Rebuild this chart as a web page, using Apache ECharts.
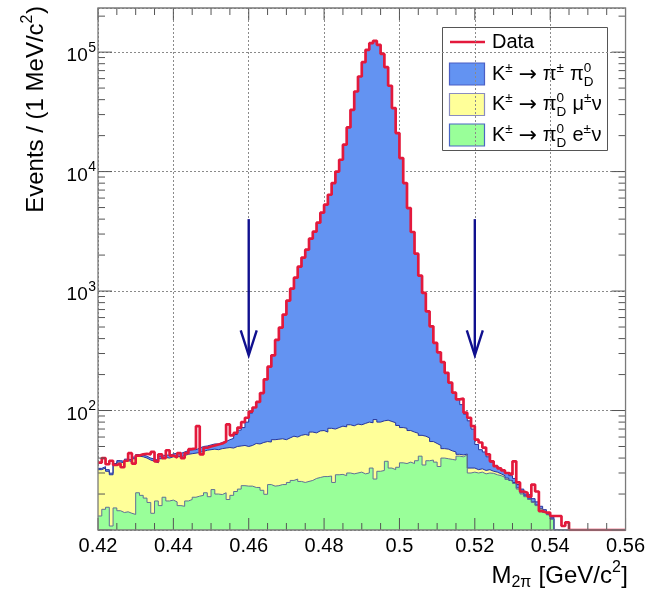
<!DOCTYPE html>
<html>
<head>
<meta charset="utf-8">
<script src="https://cdn.jsdelivr.net/npm/echarts@6/dist/echarts.min.js"></script>
<style>
  html, body { margin: 0; padding: 0; background: #ffffff; }
  #chart { width: 648px; height: 595px; }
</style>
</head>
<body>
<div id="chart"></div>
<script>
// Axis ranges and tick values
const X_MIN = 0.42, X_MAX = 0.56, BIN_WIDTH = 0.001;
const Y_MIN = 10, Y_MAX = 234000;
const xTickValues = [0.42, 0.44, 0.46, 0.48, 0.50, 0.52, 0.54, 0.56];
const yTickValues = [100, 1000, 10000, 100000];

// Selection cuts on M(2pi), shown as arrows
const cutValues = [0.46, 0.52];
const arrowTop = 4000;
const arrowTip = 290;

// Events per 1 MeV/c^2 bin, 0.420 .. 0.560 GeV/c^2 (140 bins)
const ke3 = [
  13.1, 14.9, 15.5, 10.8, 15.3, 14.5, 14.0, 14.2, 13.8, 13.5,
  20.5, 19.5, 18.5, 17.0, 13.8, 17.5, 16.0, 18.8, 17.5, 17.8,
  17.2, 16.0, 15.8, 17.5, 18.0, 18.8, 19.2, 19.5, 20.5, 19.0,
  21.8, 20.0, 19.8, 20.5, 18.0, 19.5, 21.0, 22.0, 23.5, 23.3,
  23.3, 22.7, 22.7, 21.5, 19.9, 24.0, 23.3, 23.5, 24.0, 24.0,
  25.0, 26.0, 26.7, 25.5, 25.0, 25.5, 26.0, 27.0, 27.5, 28.0,
  28.0, 28.3, 25.0, 29.0, 29.2, 28.5, 30.0, 29.5, 30.0, 30.5,
  29.5, 30.0, 33.0, 26.7, 31.0, 31.5, 37.6, 33.0, 32.0, 33.5,
  36.5, 36.0, 37.0, 36.0, 38.0, 41.5, 35.0, 38.0, 38.5, 37.0,
  34.0, 40.0, 39.5, 39.0, 38.5, 41.5, 41.0, 42.5, 30.0, 30.5,
  30.0, 30.5, 29.5, 30.0, 29.8, 29.0, 28.5, 27.6, 26.5, 25.5,
  24.5, 22.0, 20.0, 19.0, 18.0, 17.0, 16.0, 15.0, 14.0, 13.4,
  12.3, 9.0, 7.5, 6.0, 4.5, 3.0, 2.0, 1.0, 0, 0,
  0, 0, 0, 0, 0, 0, 0, 0, 0, 0
];
const kmu3 = [
  18.9, 18.1, 15.5, 18.2, 19.7, 22.5, 22.5, 23.8, 23.7, 26.0,
  21.0, 21.5, 21.5, 21.5, 23.8, 19.0, 23.5, 21.7, 22.5, 23.2,
  24.3, 25.0, 26.2, 25.5, 25.5, 25.2, 25.3, 26.0, 26.0, 28.0,
  25.7, 27.0, 28.2, 28.0, 31.0, 29.0, 29.0, 28.5, 27.5, 26.7,
  27.7, 30.3, 29.8, 32.5, 35.1, 30.5, 33.7, 34.0, 34.0, 33.0,
  34.0, 35.0, 33.3, 36.5, 38.0, 36.5, 40.0, 38.0, 40.0, 40.0,
  38.0, 42.7, 45.0, 43.0, 44.8, 44.5, 46.0, 45.0, 47.0, 45.5,
  48.5, 50.0, 46.0, 57.3, 49.0, 50.5, 45.4, 48.0, 47.0, 41.5,
  35.5, 35.0, 31.0, 30.0, 26.5, 20.5, 26.0, 21.0, 16.5, 16.0,
  17.0, 8.0, 8.0, 7.0, 6.5, 1.5, 1.5, 0.7, 3.0, 2.5,
  2.0, 2.0, 2.0, 2.0, 1.2, 1.5, 1.0, 0.9, 0.7, 0.5,
  0.5, 0.5, 0.4, 0.3, 0.2, 0.2, 0.2, 0.1, 0.1, 0.1,
  0.1, 0, 0, 0, 0, 0, 0, 0, 0, 0,
  0, 0, 0, 0, 0, 0, 0, 0, 0, 0
];
const k2pi = [
  0.8, 0.9, 1.0, 0.9, 1.0, 1.1, 1.0, 1.2, 1.2, 1.3,
  1.3, 1.4, 1.5, 1.5, 1.6, 1.8, 1.9, 2.0, 2.2, 2.3,
  2.5, 2.7, 3.0, 3.2, 3.5, 3.0, 4.0, 4.5, 4.0, 4.5,
  5.0, 5.5, 6.0, 6.5, 8.0, 10.0, 13.0, 18.0, 21.0, 30.0,
  44, 53, 65.5, 86, 127, 178.5, 233, 332.5, 436, 578,
  773, 986, 1234, 1538, 1842, 2158, 2677, 3075, 3667, 4462,
  5219, 6329, 7950, 9928, 12486, 16717, 23324, 32825, 46723, 62424,
  82322, 104420, 118821, 124116, 114920, 96518, 74717, 52219, 33921, 20925,
  12908, 7949, 4882, 3054, 1990, 1284, 903, 618, 452, 315,
  256, 206, 160, 125, 96, 81, 69.5, 50, 49, 37,
  20, 14.5, 13.5, 9, 6, 3.5, 3.5, 3, 2.8, 2.5,
  2, 1.5, 1.6, 0.7, 1.3, 1.1, 1.0, 0.7, 0.7, 0.5,
  0.4, 1.1, 0.5, 0.3, 0.2, 0.1, 0, 0, 0, 0,
  0, 0, 0, 0, 0, 0, 0, 0, 0, 0
];
const dataCounts = [
  36.6, 40.0, 35.5, 38.0, 35.0, 36.0, 33.5, 38.0, 44.0, 36.0,
  42.0, 43.0, 43.5, 43.0, 45.0, 37.5, 43.0, 40.0, 46.5, 42.0,
  40.5, 44.0, 40.0, 44.0, 47.5, 48.5, 74.0, 43.0, 48.8, 50.0,
  51.0, 52.0, 53.0, 55.0, 76.5, 62.0, 65.0, 72.0, 80.0, 87.0,
  98, 106, 118, 140, 182, 233, 290, 390, 494, 635,
  832, 1047, 1294, 1600, 1905, 2220, 2743, 3140, 3735, 4530,
  5285, 6400, 8020, 10000, 12560, 16790, 23400, 32900, 46800, 62500,
  82400, 104500, 118900, 124200, 115000, 96600, 74800, 52300, 34000, 21000,
  12980, 8020, 4950, 3120, 2055, 1346, 964, 677, 507, 368,
  307, 254, 207, 171, 141, 124, 126, 96, 87, 74,
  57, 54, 49, 43, 37.6, 34.2, 32.8, 31.5, 30, 29,
  37.6, 25, 21, 20.5, 19, 24, 21, 14.4, 14, 14,
  13.1, 13.1, 13.1, 10.8, 11.6, 0, 0, 0, 0, 0,
  0, 0, 0, 0, 0, 0, 0, 0, 0, 0
];

// Colours and fonts
const FONT = '"Liberation Sans", Arial, Helvetica, sans-serif';
const ARROW_FONT = '"DejaVu Sans", sans-serif';
const BLUE_FILL = '#6393f2';
const YELLOW_FILL = '#ffff99';
const GREEN_FILL = '#99ff99';
const NAVY_LINE = '#26349c';
const GREEN_LINE = '#607096';
const DATA_RED = '#e3193c';
const ARROW_BLUE = '#10108f';
const FRAME_GREY = '#7a7a7a';
const GRID_GREY = '#8a8a8a';

const nBins = dataCounts.length;
const binEdges = Array.from({ length: nBins + 1 }, (_, i) => +(X_MIN + i * BIN_WIDTH).toFixed(3));

// THStack-style cumulative tops: Ke3, Ke3+Kmu3, Ke3+Kmu3+K2pi
const topKe3 = ke3.slice();
const topKmu3 = ke3.map((v, i) => v + kmu3[i]);
const topAll = topKmu3.map((v, i) => v + k2pi[i]);

// Histogram outline points (step turns at the right bin edge); empty bins sit on the axis floor
function histPoints(values) {
  const pts = values.map((v, i) => [binEdges[i], Math.max(v, Y_MIN)]);
  pts.push([binEdges[nBins], Math.max(values[nBins - 1], Y_MIN)]);
  return pts;
}

// Text measuring for composed labels with super/subscripts
const measureCtx = document.createElement('canvas').getContext('2d');
function textWidth(str, size, family) {
  measureCtx.font = size + 'px ' + (family || FONT);
  return measureCtx.measureText(str).width;
}
function textEl(str, x, y, size, align, family) {
  return {
    type: 'text', x: x, y: y, silent: true,
    style: { text: str, fontSize: size, fontFamily: family || FONT, fill: '#000', align: align || 'left', verticalAlign: 'middle' }
  };
}
// pieces: {t[, size, font, gap]}, {sup}, {sub}, {sup, sub} (stacked)
function formula(pieces, base, small, supShift, subShift) {
  const out = [];
  let x = 0;
  pieces.forEach(p => {
    if (p.t !== undefined) {
      const size = p.size || base;
      out.push(textEl(p.t, x, p.dy || 0, size, 'left', p.font));
      x += textWidth(p.t, size, p.font);
    } else {
      let w = 0;
      if (p.sup !== undefined) { out.push(textEl(p.sup, x, -supShift, small)); w = Math.max(w, textWidth(p.sup, small)); }
      if (p.sub !== undefined) { out.push(textEl(p.sub, x, subShift, small)); w = Math.max(w, textWidth(p.sub, small)); }
      x += w + 0.5;
    }
  });
  return { children: out, width: x };
}
function shiftAll(children, dx) {
  children.forEach(c => { c.x += dx; });
  return children;
}

// Axis titles
const yTitle = formula([{ t: 'Events / (1 MeV/c' }, { sup: '2' }, { t: ')' }], 24, 16, 8, 8);
const xTitle = formula([{ t: 'M' }, { sub: '2\u03c0' }, { t: ' [GeV/c' }, { sup: '2' }, { t: ']' }], 24, 16, 8, 7);

// Legend entries
const ARROW_PIECES = [{ t: ' ' }, { t: '\u2192', size: 22, font: ARROW_FONT, dy: 1 }, { t: ' \u03c0' }];
const legendRows = [
  { fill: BLUE_FILL, stroke: '#4b5ec4',
    label: [{ t: 'K' }, { sup: '\u00b1' }].concat(ARROW_PIECES, [{ sup: '\u00b1' }, { t: ' \u03c0' }, { sup: '0', sub: 'D' }]) },
  { fill: YELLOW_FILL, stroke: '#8a8cc0',
    label: [{ t: 'K' }, { sup: '\u00b1' }].concat(ARROW_PIECES, [{ sup: '0', sub: 'D' }, { t: ' \u03bc' }, { sup: '\u00b1' }, { t: '\u03bd' }]) },
  { fill: GREEN_FILL, stroke: '#4a66c4',
    label: [{ t: 'K' }, { sup: '\u00b1' }].concat(ARROW_PIECES, [{ sup: '0', sub: 'D' }, { t: ' e' }, { sup: '\u00b1' }, { t: '\u03bd' }]) }
];

const legendChildren = [
  { type: 'rect', shape: { x: 442.5, y: 27.5, width: 165, height: 123 }, style: { fill: '#fff', stroke: '#555', lineWidth: 1 } },
  { type: 'line', shape: { x1: 450, y1: 42, x2: 485, y2: 42 }, style: { stroke: DATA_RED, lineWidth: 2.6 } },
  textEl('Data', 492, 42.5, 20)
];
legendRows.forEach((row, k) => {
  const cy = 74 + k * 30.5;
  legendChildren.push({ type: 'rect', shape: { x: 449.5, y: cy - 11, width: 35, height: 22 },
    style: { fill: row.fill, stroke: row.stroke, lineWidth: 1.2 } });
  const f = formula(row.label, 20, 13.5, 6, 8);
  f.children.forEach(c => { c.x += 492; c.y += cy; legendChildren.push(c); });
});

const option = {
  animation: false,
  backgroundColor: '#ffffff',
  grid: { left: 98, right: 20, top: 8, bottom: 65, containLabel: false },
  xAxis: {
    type: 'value', min: X_MIN, max: X_MAX, interval: 0.02,
    axisLine: { show: false },
    axisTick: { show: false },
    axisLabel: { show: true, margin: 6, fontSize: 20, fontFamily: FONT, color: '#000',
      formatter: v => xTickValues.some(t => Math.abs(t - v) < 1e-9) ? String(+v.toFixed(2)) : '' },
    splitLine: { show: true, lineStyle: { color: GRID_GREY, width: 1, type: [2, 2] } }
  },
  yAxis: {
    type: 'log', logBase: 10, min: Y_MIN, max: Y_MAX,
    axisLine: { show: false },
    axisTick: { show: false },
    axisLabel: { show: false },
    splitLine: { show: true, lineStyle: { color: GRID_GREY, width: 1, type: [2, 2] } }
  },
  series: [
    {
      name: 'K2pi', type: 'line', step: 'end', symbol: 'none', showSymbol: false,
      data: histPoints(topAll),
      lineStyle: { color: NAVY_LINE, width: 1 },
      areaStyle: { color: BLUE_FILL, opacity: 1, origin: 'start' }
    },
    {
      name: 'Kmu3', type: 'line', step: 'end', symbol: 'none', showSymbol: false,
      data: histPoints(topKmu3),
      lineStyle: { color: NAVY_LINE, width: 1 },
      areaStyle: { color: YELLOW_FILL, opacity: 1, origin: 'start' }
    },
    {
      name: 'Ke3', type: 'line', step: 'end', symbol: 'none', showSymbol: false,
      data: histPoints(topKe3),
      lineStyle: { color: GREEN_LINE, width: 1 },
      areaStyle: { color: GREEN_FILL, opacity: 1, origin: 'start' }
    },
    {
      name: 'Data', type: 'line', step: 'end', symbol: 'none', showSymbol: false,
      data: histPoints(dataCounts),
      lineStyle: { color: DATA_RED, width: 2.7 },
      z: 4
    },
    {
      // cut arrows
      name: 'cuts', type: 'custom', z: 6, silent: true, clip: false,
      data: cutValues.map(v => [v, arrowTop, arrowTip]),
      encode: { x: 0, y: [1, 2] },
      renderItem: (params, api) => {
        const top = api.coord([api.value(0), api.value(1)]);
        const tip = api.coord([api.value(0), api.value(2)]);
        return {
          type: 'group',
          children: [
            { type: 'line', shape: { x1: top[0], y1: top[1], x2: tip[0], y2: tip[1] - 1 },
              style: { stroke: ARROW_BLUE, lineWidth: 2.4 } },
            { type: 'polyline', shape: { points: [[tip[0] - 8, tip[1] - 25], [tip[0], tip[1]], [tip[0] + 8, tip[1] - 25]] },
              style: { stroke: ARROW_BLUE, lineWidth: 2.4, fill: 'none' } }
          ]
        };
      }
    },
    {
      // frame, tick marks on all four sides and the power-of-ten labels
      name: 'frame', type: 'custom', z: 10, silent: true, clip: false,
      data: [[X_MIN, Y_MIN]],
      encode: { x: 0, y: 1 },
      renderItem: (params, api) => {
        const lb = api.coord([X_MIN, Y_MIN]);
        const rt = api.coord([X_MAX, Y_MAX]);
        const xl = lb[0], yb = lb[1], xr = rt[0], yt = rt[1];
        const ch = [];
        const tickStyle = { stroke: '#555', lineWidth: 1 };
        // x ticks: majors every 0.02, minors every 0.005
        for (let k = 0; k <= 28; k++) {
          const xv = X_MIN + k * 0.005;
          const px = api.coord([xv, Y_MIN])[0];
          const len = (k % 4 === 0) ? 12 : 7;
          ch.push({ type: 'line', shape: { x1: px, y1: yb, x2: px, y2: yb - len }, style: tickStyle });
          ch.push({ type: 'line', shape: { x1: px, y1: yt, x2: px, y2: yt + len }, style: tickStyle });
        }
        // y ticks: decades and 2..9 subdivisions
        for (let e = 1; e <= 5; e++) {
          for (let m = 1; m <= 9; m++) {
            const v = m * Math.pow(10, e);
            if (v < Y_MIN || v > Y_MAX) continue;
            const py = api.coord([X_MIN, v])[1];
            const len = (m === 1) ? 14 : 7;
            ch.push({ type: 'line', shape: { x1: xl, y1: py, x2: xl + len, y2: py }, style: tickStyle });
            ch.push({ type: 'line', shape: { x1: xr, y1: py, x2: xr - len, y2: py }, style: tickStyle });
          }
        }
        // frame
        ch.push({ type: 'rect', shape: { x: xl, y: yt, width: xr - xl, height: yb - yt },
          style: { fill: 'none', stroke: FRAME_GREY, lineWidth: 1.3 } });
        // y labels 10^n
        yTickValues.forEach(v => {
          const py = api.coord([X_MIN, v])[1];
          const exp = String(Math.round(Math.log10(v)));
          const supW = textWidth(exp, 14);
          const right = xl - 2;
          ch.push(textEl(exp, right, py - 4, 14, 'right'));
          ch.push(textEl('10', right - supW - 0.5, py + 4, 19, 'right'));
        });
        return { type: 'group', children: ch };
      }
    }
  ],
  graphic: [
    { type: 'group', x: 36, y: 6, rotation: Math.PI / 2, silent: true,
      children: shiftAll(yTitle.children, -yTitle.width) },
    { type: 'group', x: 628, y: 576, silent: true,
      children: shiftAll(xTitle.children, -xTitle.width) },
    { type: 'group', x: 0, y: 0, silent: true, children: legendChildren }
  ]
};

const chart = echarts.init(document.getElementById('chart'), null, { renderer: 'canvas' });
chart.setOption(option);
</script>
</body>
</html>
